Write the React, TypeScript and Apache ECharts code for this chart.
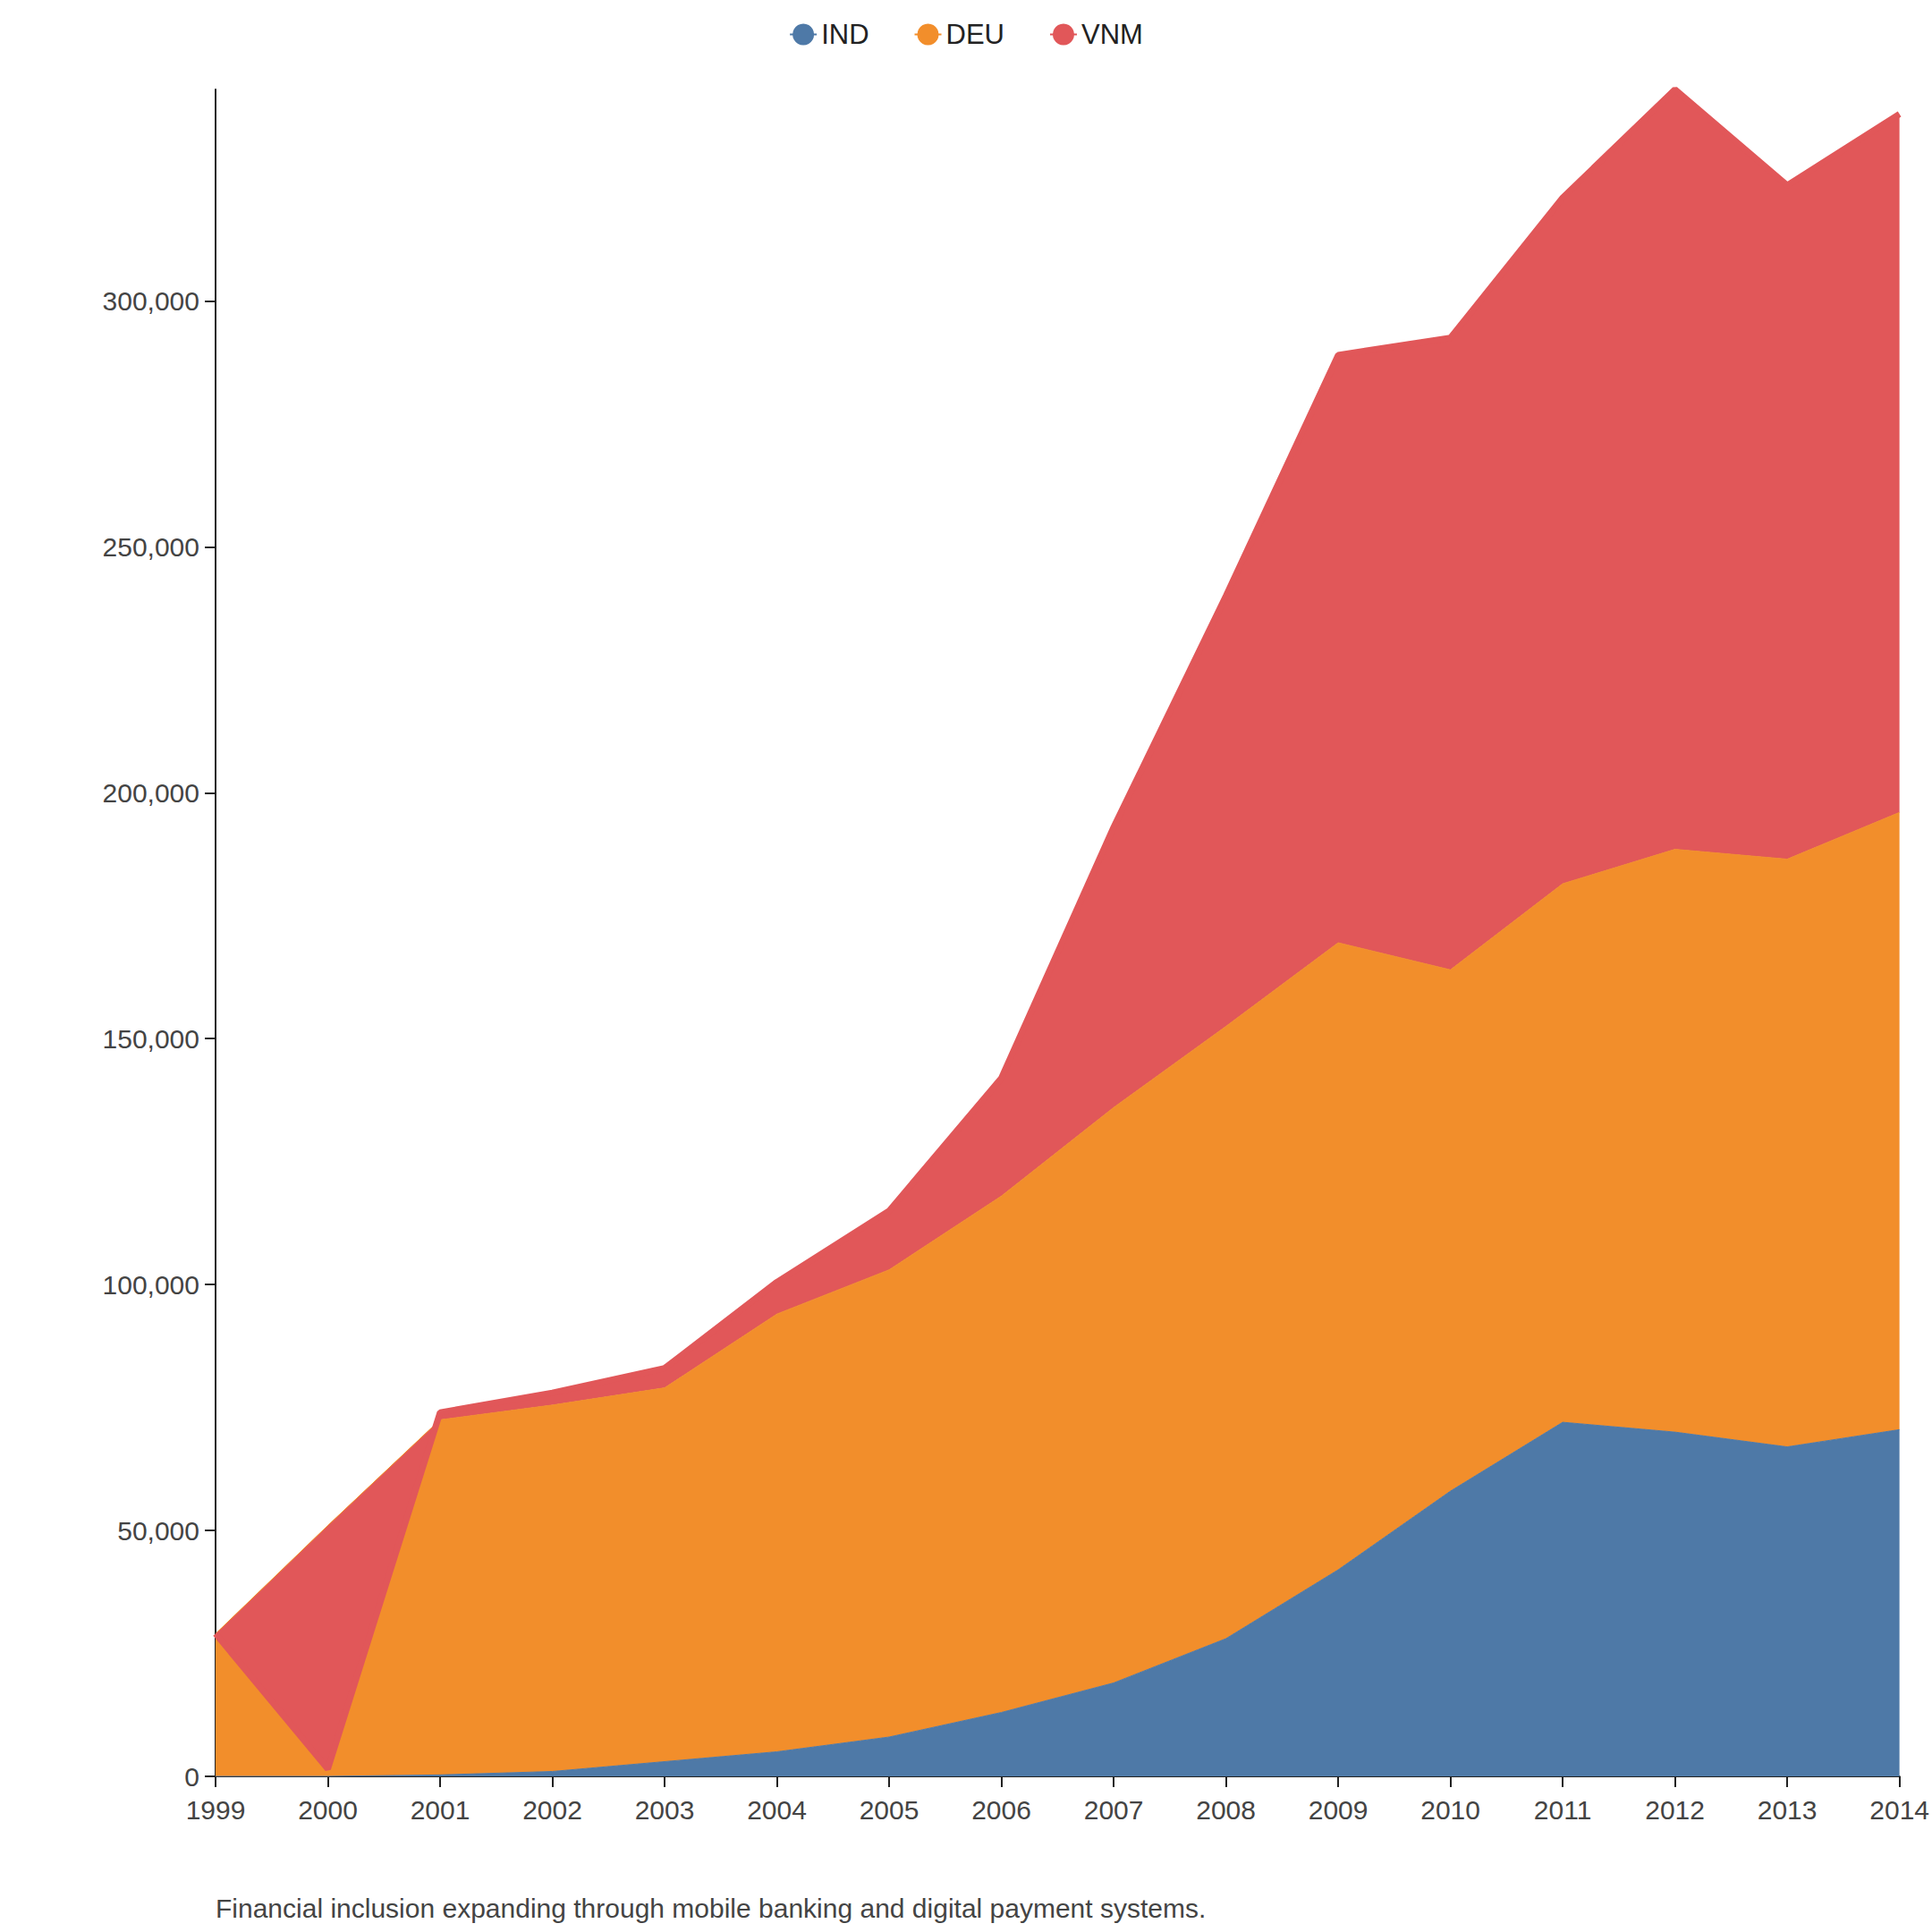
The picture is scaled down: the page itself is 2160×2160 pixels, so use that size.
import { useEffect, useRef } from 'react';
import * as echarts from 'echarts';

const years = ['1999', '2000', '2001', '2002', '2003', '2004', '2005', '2006', '2007', '2008', '2009', '2010', '2011', '2012', '2013', '2014'];
const indValues = [0, 0, 300, 1000, 3000, 5000, 8000, 13000, 19000, 28000, 42000, 58000, 72000, 70000, 67000, 70500];
const deuValues = [29000, 51000, 72200, 74500, 76000, 89000, 95000, 105000, 117000, 124500, 127500, 106000, 109500, 118500, 119500, 125500];
const vnmValues = [0, -49500, 1500, 2500, 4000, 6500, 12000, 24000, 57000, 87500, 119500, 128500, 139500, 154500, 137000, 142000];

const font = 'Liberation Sans, Arial, sans-serif';
const axisColor = '#222';

export default function App() {
  const chartRef = useRef<HTMLDivElement>(null);

  useEffect(() => {
    if (!chartRef.current) return;
    document.body.style.margin = '0';
    const chart = echarts.init(chartRef.current, null, { renderer: 'svg' });

    const mk = (name: string, data: number[], color: string, lineWidth: number) => ({
      name,
      type: 'line',
      stack: 'total',
      stackStrategy: 'all',
      data,
      symbol: 'none',
      lineStyle: { color, width: lineWidth },
      itemStyle: { color },
      areaStyle: { color, opacity: 1 },
    });

    chart.setOption({
      animation: false,
      textStyle: { fontFamily: font },
      legend: {
        top: 18,
        left: 'center',
        itemWidth: 30,
        itemHeight: 30,
        itemGap: 50,
        textStyle: { fontSize: 31, color: '#222', fontFamily: font },
        data: ['IND', 'DEU', 'VNM'],
      },
      grid: { left: 241, right: 30, top: 100, bottom: 174 },
      xAxis: {
        type: 'category',
        data: years,
        boundaryGap: false,
        axisLine: { lineStyle: { color: axisColor, width: 2 } },
        axisTick: { show: true, length: 12, alignWithLabel: true, lineStyle: { color: axisColor, width: 2 } },
        axisLabel: { fontSize: 30, color: '#444', margin: 22, fontFamily: font, interval: 0 },
      },
      yAxis: {
        type: 'value',
        min: 0,
        max: 343000,
        interval: 50000,
        axisLine: { show: true, lineStyle: { color: axisColor, width: 2 } },
        axisTick: { show: true, length: 12, lineStyle: { color: axisColor, width: 2 } },
        splitLine: { show: false },
        axisLabel: {
          fontSize: 30,
          color: '#444',
          margin: 18,
          fontFamily: font,
          showMaxLabel: false,
          formatter: (v: number) => v.toLocaleString('en-US'),
        },
      },
      graphic: [
        {
          type: 'text',
          left: 241,
          top: 2118,
          style: {
            text: 'Financial inclusion expanding through mobile banking and digital payment systems.',
            fontSize: 30,
            fill: '#444',
            fontFamily: font,
          },
        },
      ],
      series: [
        mk('IND', indValues, '#4e79a7', 1),
        mk('DEU', deuValues, '#f28e2b', 1),
        mk('VNM', vnmValues, '#e15759', 7),
      ],
    });

    return () => chart.dispose();
  }, []);

  return <div ref={chartRef} style={{ width: 2160, height: 2160 }} />;
}
